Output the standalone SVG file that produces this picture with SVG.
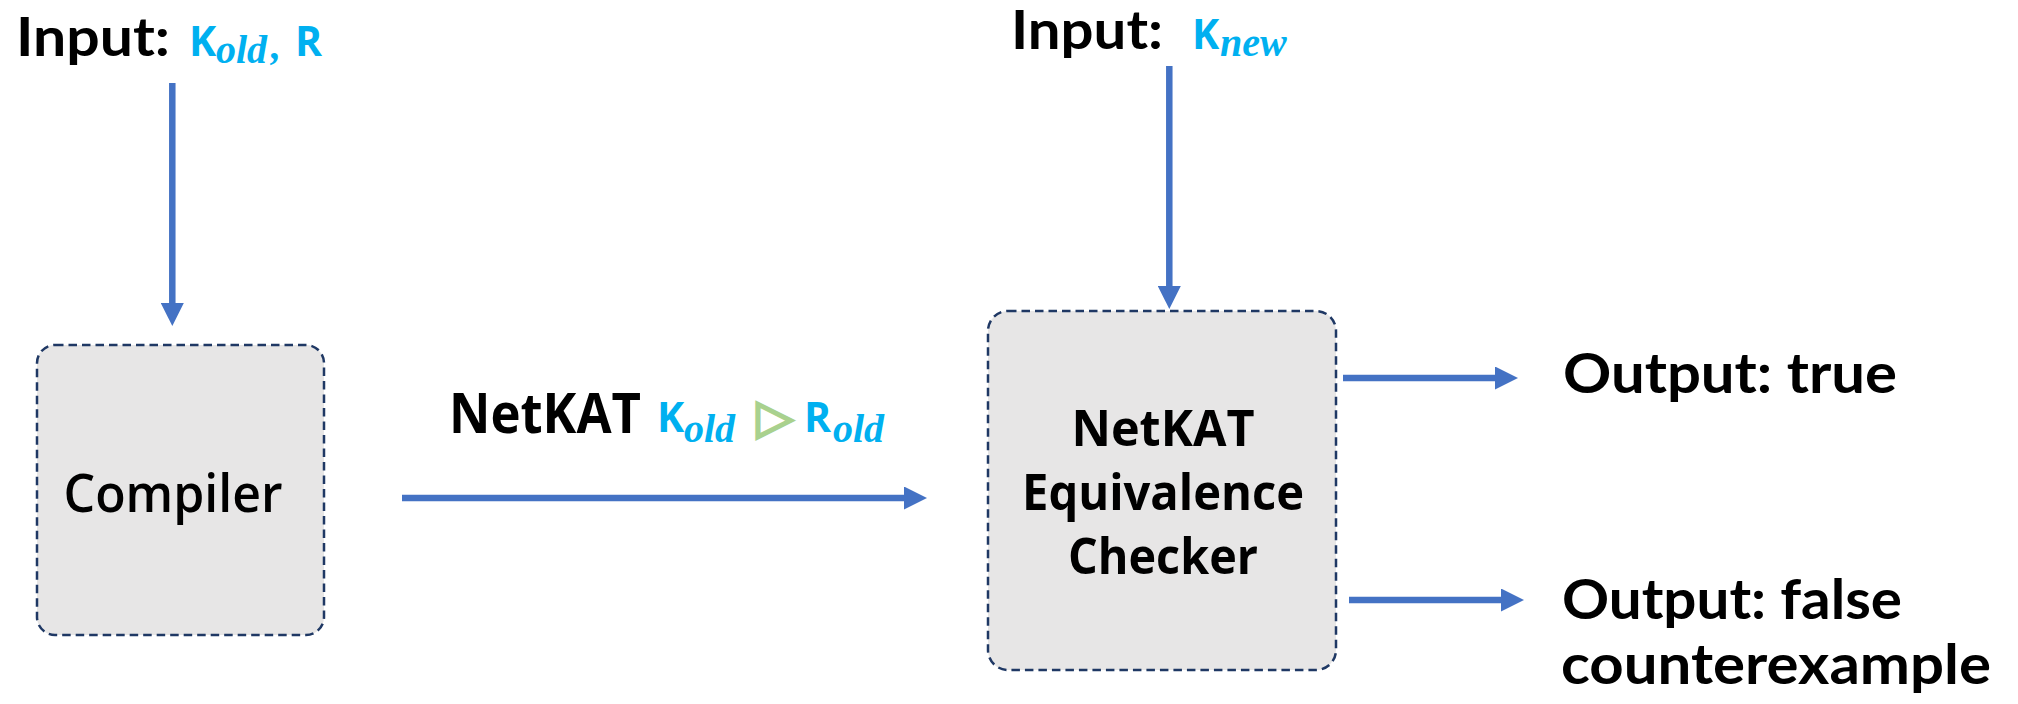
<svg xmlns="http://www.w3.org/2000/svg" width="2018" height="704" viewBox="0 0 2018 704">
  <defs>
    <style>
      .box { fill: #E7E6E6; stroke: #1F3864; stroke-width: 2.5; stroke-dasharray: 8.5 5; }
      .node-text { font-family: "Open Sans", "Noto Sans", sans-serif; fill: #000; text-anchor: middle; }
      .head { font-family: "Lato", "Open Sans", sans-serif; font-weight: 700; fill: #000; }
      .label { font-family: "Open Sans", "Noto Sans", sans-serif; font-weight: 700; fill: #000; }
      .sym { font-family: "Open Sans", "Noto Sans", sans-serif; font-weight: 700; fill: #00B0F0; }
      .sub { font-family: "Liberation Serif", serif; font-style: italic; font-weight: 700; fill: #00B0F0; }
      .wire { fill: none; stroke: #4472C4; stroke-width: 6.5; marker-end: url(#arrow); }
    </style>
    <marker id="arrow" viewBox="0 0 23 23" refX="1" refY="11.5" markerWidth="23" markerHeight="23" markerUnits="userSpaceOnUse" orient="auto">
      <path d="M0,0 L23,11.5 L0,23 Z" fill="#4472C4"/>
    </marker>
  </defs>

  <!-- input labels -->
  <g id="input-old">
    <text class="head" x="16" y="56" font-size="54" textLength="154" lengthAdjust="spacingAndGlyphs">Input:</text>
    <text class="sym" x="189" y="56" font-size="41">K</text>
    <text class="sub" x="216" y="63" font-size="40">old</text>
    <text class="sub" x="271" y="59" font-size="40">,</text>
    <text class="sym" x="295" y="56" font-size="41">R</text>
  </g>

  <g id="input-new">
    <text class="head" x="1011" y="49" font-size="54" textLength="152" lengthAdjust="spacingAndGlyphs">Input:</text>
    <text class="sym" x="1192" y="49" font-size="41">K</text>
    <text class="sub" x="1220" y="56" font-size="40">new</text>
  </g>

  <!-- compiler node -->
  <g id="compiler">
    <rect class="box" x="37" y="345" width="287" height="290" rx="18"/>
    <text class="node-text" x="173" y="512" font-size="53" font-weight="600" textLength="219" lengthAdjust="spacingAndGlyphs">Compiler</text>
  </g>

  <!-- equivalence checker node -->
  <g id="checker">
    <rect class="box" x="988" y="311" width="348" height="359" rx="20"/>
    <text class="node-text" x="1163" y="446" font-size="50" font-weight="700" textLength="183" lengthAdjust="spacingAndGlyphs">NetKAT</text>
    <text class="node-text" x="1163" y="510" font-size="50" font-weight="700" textLength="282" lengthAdjust="spacingAndGlyphs">Equivalence</text>
    <text class="node-text" x="1163" y="574" font-size="50" font-weight="700" textLength="190" lengthAdjust="spacingAndGlyphs">Checker</text>
  </g>

  <!-- compiled program label on the middle edge -->
  <g id="compiled-label">
    <text class="label" x="449" y="433" font-size="56" textLength="192" lengthAdjust="spacingAndGlyphs">NetKAT</text>
    <text class="sym" x="657" y="432" font-size="41">K</text>
    <text class="sub" x="684" y="442" font-size="40">old</text>
    <text x="775" y="433" font-family="DejaVu Sans, sans-serif" font-size="48" fill="#A9D18E" stroke="#A9D18E" stroke-width="2.5" text-anchor="middle">▷</text>
    <text class="sym" x="804" y="432" font-size="41">R</text>
    <text class="sub" x="833" y="442" font-size="40">old</text>
  </g>

  <!-- outputs -->
  <g id="output-true">
    <text class="head" x="1563" y="393" font-size="56" textLength="334" lengthAdjust="spacingAndGlyphs">Output: true</text>
  </g>
  <g id="output-false">
    <text class="head" x="1562" y="619" font-size="56" textLength="340" lengthAdjust="spacingAndGlyphs">Output: false</text>
    <text class="head" x="1561" y="684" font-size="56" textLength="430" lengthAdjust="spacingAndGlyphs">counterexample</text>
  </g>

  <!-- connectors -->
  <g id="connectors">
    <path class="wire" d="M172.3,83 L172.3,304"/>
    <path class="wire" d="M1169.3,66 L1169.3,287"/>
    <path class="wire" d="M402,498 L905,498"/>
    <path class="wire" d="M1343,378 L1496,378"/>
    <path class="wire" d="M1349,600 L1502,600"/>
  </g>
</svg>
